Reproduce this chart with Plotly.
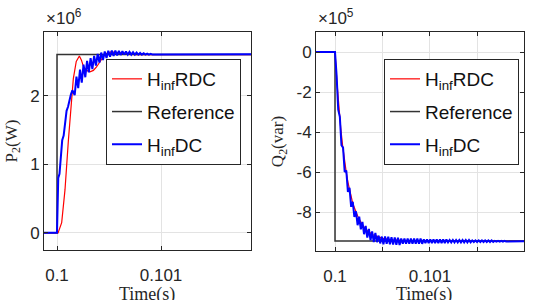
import plotly.graph_objects as go

# ---------------- data (left panel: P2, units of 1e6 W) ----------------
p_ref_t = [0.099875, 0.1, 0.1, 0.101865]
p_ref_v = [0.0, 0.0, 2.60, 2.60]

p_rdc_t = [0.099875, 0.10001, 0.100045, 0.100077, 0.10011, 0.10014, 0.100157,
           0.100185, 0.100215, 0.100235, 0.100253, 0.100285, 0.100317, 0.10035,
           0.10038, 0.100415, 0.100445, 0.10048, 0.10052, 0.10058, 0.10065,
           0.10075, 0.101865]
p_rdc_v = [0.0, 0.0, 0.15, 0.63, 1.36, 1.94, 2.25,
           2.50, 2.58, 2.52, 2.43, 2.37, 2.35, 2.37,
           2.42, 2.50, 2.57, 2.62, 2.64, 2.63, 2.61,
           2.60, 2.60]

p_dc_t = [0.099875, 0.1, 0.100012, 0.100024, 0.100050, 0.100064, 0.100092,
          0.100106, 0.100134, 0.100148,
          0.100170, 0.100187, 0.100204, 0.100221, 0.100238, 0.100255, 0.100272,
          0.100289, 0.100306, 0.100323, 0.100340, 0.100357, 0.100374, 0.100391,
          0.100408, 0.100425, 0.100442, 0.100459, 0.100476, 0.100493, 0.100510,
          0.100527, 0.100544, 0.100561, 0.100578, 0.100595, 0.100612, 0.100629,
          0.100646, 0.100663, 0.100680, 0.100697, 0.100714, 0.100731, 0.100748,
          0.100765, 0.100782, 0.100799, 0.100816, 0.100833, 0.100850, 0.100867,
          0.100884, 0.100901, 0.100918, 0.101865]
p_dc_v = [0.0, 0.0, 0.80, 0.86, 1.35, 1.42, 1.78,
          1.84, 2.02, 2.08,
          2.01, 2.28, 2.11, 2.38, 2.19, 2.455, 2.27,
          2.51, 2.34, 2.55, 2.39, 2.58, 2.44, 2.61,
          2.485, 2.63, 2.52, 2.645, 2.55, 2.655, 2.57,
          2.66, 2.58, 2.66, 2.59, 2.655, 2.595, 2.65,
          2.60, 2.645, 2.60, 2.64, 2.60, 2.635, 2.60,
          2.63, 2.60, 2.625, 2.60, 2.62, 2.60, 2.615,
          2.60, 2.61, 2.60, 2.605]

# ---------------- data (right panel: Q2, units of 1e5 var) ----------------
q_ref_t = [0.0998, 0.1, 0.1, 0.10199]
q_ref_v = [0.0, 0.0, -9.45, -9.45]

q_rdc_t = [0.0998, 0.1, 0.10002, 0.10004, 0.10006, 0.10008, 0.10010, 0.10012,
           0.10014, 0.10016, 0.10018, 0.10020, 0.10025, 0.10030, 0.10035,
           0.10040, 0.10050, 0.10060, 0.10080, 0.10199]
q_rdc_v = [0.0, 0.0, -1.49, -2.74, -3.79, -4.68, -5.43, -6.07,
           -6.60, -7.04, -7.42, -7.74, -8.33, -8.72, -8.98,
           -9.14, -9.32, -9.39, -9.44, -9.45]

q_dc_t = [0.0998, 0.1,
          0.100017, 0.100034, 0.100051, 0.100068, 0.100085, 0.100102, 0.100119,
          0.100136, 0.100153, 0.100170, 0.100187, 0.100204, 0.100221, 0.100238,
          0.100255, 0.100272, 0.100289, 0.100306, 0.100323, 0.100340, 0.100357,
          0.100374, 0.100391, 0.100408, 0.100425, 0.100442, 0.100459, 0.100476,
          0.100493, 0.100510, 0.100527, 0.100544, 0.100561, 0.100578, 0.100595,
          0.100612, 0.100629, 0.100646, 0.100663, 0.100680, 0.100697, 0.100714,
          0.100731, 0.100748, 0.100765, 0.100782, 0.100799, 0.100816, 0.100833,
          0.100850, 0.100867, 0.100884, 0.100901, 0.100918, 0.100935, 0.100952,
          0.100969, 0.100986, 0.101003, 0.101020, 0.101037, 0.101054, 0.101071,
          0.101088, 0.101105, 0.101122, 0.101139, 0.101156, 0.101173, 0.101190,
          0.101207, 0.101224, 0.101241, 0.101258, 0.101275, 0.101292, 0.101309,
          0.101326, 0.101343, 0.101360, 0.101377, 0.101394, 0.101411, 0.101428,
          0.101445, 0.101462, 0.101479, 0.101496, 0.101513, 0.101530, 0.101547,
          0.101564, 0.101581, 0.101598, 0.101615, 0.101632, 0.101649, 0.101666,
          0.101683, 0.101700, 0.101717, 0.101734, 0.101751, 0.101768, 0.101785,
          0.101802, 0.10199]
q_dc_v = [0.0, 0.0,
          -1.18, -2.88, -3.24, -4.66, -4.78, -6.00, -5.93,
          -6.99, -6.79, -7.74, -7.49, -8.25, -7.97, -8.66,
          -8.23, -8.87, -8.50, -9.11, -8.70, -9.28, -8.85,
          -9.41, -8.97, -9.51, -9.05, -9.51, -9.18, -9.57,
          -9.23, -9.61, -9.22, -9.59, -9.24, -9.61, -9.26,
          -9.63, -9.27, -9.64, -9.28, -9.65, -9.33, -9.59,
          -9.33, -9.59, -9.33, -9.59, -9.33, -9.59, -9.33,
          -9.59, -9.33, -9.59, -9.33, -9.59, -9.37, -9.55,
          -9.37, -9.55, -9.37, -9.55, -9.37, -9.55, -9.37,
          -9.55, -9.37, -9.55, -9.37, -9.55, -9.37, -9.52,
          -9.40, -9.52, -9.40, -9.52, -9.40, -9.52, -9.40,
          -9.52, -9.40, -9.52, -9.40, -9.52, -9.40, -9.52,
          -9.42, -9.50, -9.42, -9.50, -9.42, -9.50, -9.42,
          -9.50, -9.42, -9.50, -9.42, -9.50, -9.42, -9.50,
          -9.44, -9.48, -9.44, -9.48, -9.44, -9.48, -9.44,
          -9.48, -9.46]

p_xticks = [0.1, 0.101]
p_xticklabels = ["0.1", "0.101"]
p_yticks = [0, 1, 2]
p_yticklabels = ["0", "1", "2"]
q_xticks = [0.1, 0.1005, 0.101, 0.1015]
q_xticklabels = ["0.1", "", "0.101", ""]
q_yticks = [0, -2, -4, -6, -8]
q_yticklabels = ["0", "-2", "-4", "-6", "-8"]

names = ["H<sub>inf</sub>RDC", "Reference", "H<sub>inf</sub>DC"]
RED, BLK, BLU = "#ff0000", "#333333", "#0000ff"
AX = "#262626"
GRID = "#e3e3e3"
SANS = "Liberation Sans, Arial, sans-serif"
SERIF = "Liberation Serif, Times New Roman, serif"

fig = go.Figure()
series = [
    (p_rdc_t, p_rdc_v, q_rdc_t, q_rdc_v, RED, 1.2),
    (p_ref_t, p_ref_v, q_ref_t, q_ref_v, BLK, 1.5),
    (p_dc_t, p_dc_v, q_dc_t, q_dc_v, BLU, 2.0),
]
for i, (pt, pv, qt, qv, col, lw) in enumerate(series):
    fig.add_trace(go.Scatter(x=pt, y=pv, mode="lines", name=names[i],
                             legendgroup=f"g{i}", line=dict(color=col, width=lw),
                             xaxis="x", yaxis="y", legend="legend"))
for i, (pt, pv, qt, qv, col, lw) in enumerate(series):
    fig.add_trace(go.Scatter(x=qt, y=qv, mode="lines", name=names[i],
                             legendgroup=f"h{i}", line=dict(color=col, width=lw),
                             xaxis="x2", yaxis="y2", legend="legend2"))

axis_common = dict(showline=True, linecolor=AX, linewidth=1, mirror="ticks",
                   ticks="inside", ticklen=4, tickcolor=AX, showgrid=True,
                   gridcolor=GRID, gridwidth=1, zeroline=False, automargin=False,
                   tickfont=dict(family=SANS, size=17, color=AX))

W, H = 534, 300
def px(x):
    return x / W
def py(y):
    return 1 - y / H

legend_common = dict(bgcolor="white", bordercolor=AX, borderwidth=1,
                      font=dict(family=SANS, size=19, color="#111111"),
                      xanchor="right", yanchor="top", itemwidth=30,
                      tracegroupgap=5)

fig.update_layout(
    width=W, height=H, margin=dict(l=0, r=0, t=0, b=0, autoexpand=False),
    paper_bgcolor="white", plot_bgcolor="white", showlegend=True,
    xaxis=dict(domain=[px(44), px(251)], range=[0.099875, 0.101865],
               tickvals=p_xticks, ticktext=p_xticklabels, anchor="y",
               ticklabelstandoff=10, **axis_common),
    yaxis=dict(domain=[py(250), py(32)], range=[-0.25, 2.93],
               tickvals=p_yticks, ticktext=p_yticklabels, anchor="x",
               title=dict(text="P<sub>2</sub>(W)", font=dict(family=SERIF, size=17, color=AX), standoff=8),
               **axis_common),
    xaxis2=dict(domain=[px(316), px(524)], range=[0.0998, 0.10199],
                tickvals=q_xticks, ticktext=q_xticklabels, anchor="y2",
                ticklabelstandoff=10, **axis_common),
    yaxis2=dict(domain=[py(251), py(32)], range=[-9.95, 1.0],
                tickvals=q_yticks, ticktext=q_yticklabels, anchor="x2",
                title=dict(text="Q<sub>2</sub>(var)", font=dict(family=SERIF, size=17, color=AX), standoff=8),
                **axis_common),
    legend=dict(x=px(241), y=py(59), **legend_common),
    legend2=dict(x=px(519), y=py(59), **legend_common),
    annotations=[
        dict(text="×10<sup>6</sup>", x=px(44), y=py(30), xref="paper", yref="paper",
             xanchor="left", yanchor="bottom", showarrow=False,
             font=dict(family=SANS, size=17, color=AX)),
        dict(text="×10<sup>5</sup>", x=px(316), y=py(30), xref="paper", yref="paper",
             xanchor="left", yanchor="bottom", showarrow=False,
             font=dict(family=SANS, size=17, color=AX)),
        dict(text="Time(s)", x=px(147), y=py(282), xref="paper", yref="paper",
             xanchor="center", yanchor="top", showarrow=False,
             font=dict(family=SERIF, size=18, color=AX)),
        dict(text="Time(s)", x=px(424), y=py(282), xref="paper", yref="paper",
             xanchor="center", yanchor="top", showarrow=False,
             font=dict(family=SERIF, size=18, color=AX)),
    ],
)

fig.write_html("out.html")
